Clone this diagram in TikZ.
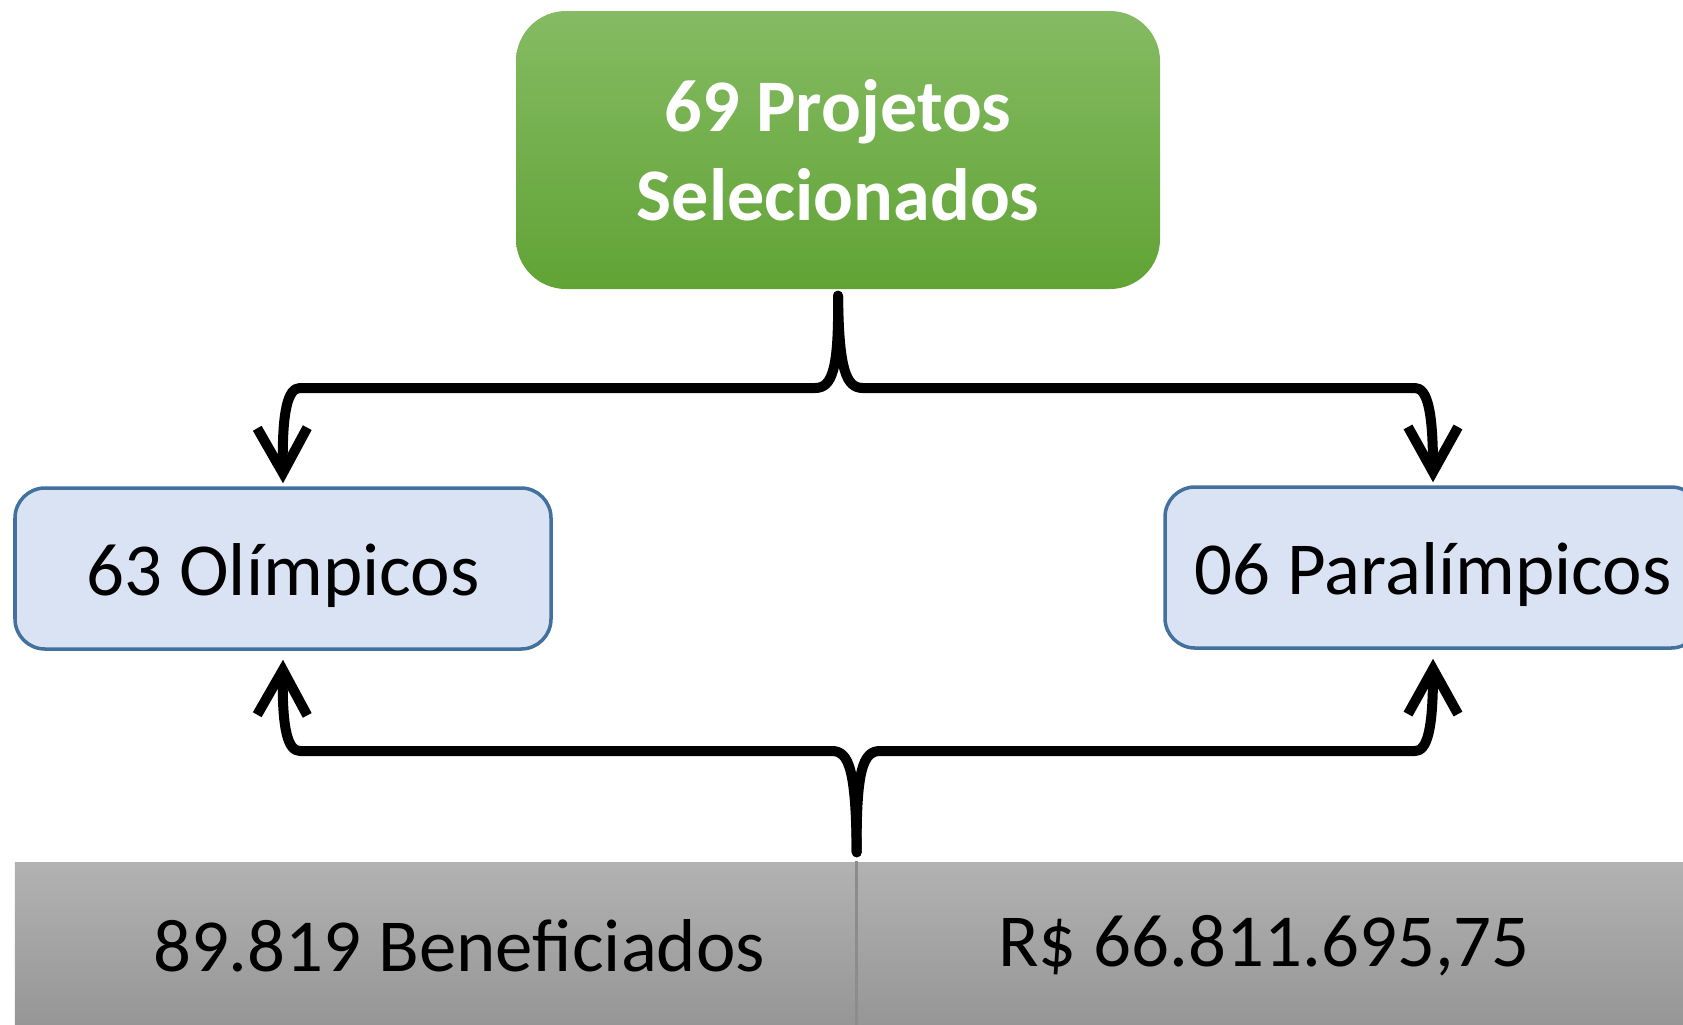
\documentclass[tikz,border=0pt]{standalone}
\usepackage{fontspec}
\setmainfont{Carlito}
\usetikzlibrary{arrows.meta}
\definecolor{verdeTop}{HTML}{85BB63}
\definecolor{verdeBot}{HTML}{61A335}
\definecolor{azulFill}{HTML}{DAE3F3}
\definecolor{azulBorda}{HTML}{41719C}
\definecolor{cinzaTop}{HTML}{B2B2B2}
\definecolor{cinzaBot}{HTML}{959595}
\begin{document}
\begin{tikzpicture}
    
    \tikzstyle{projbox}=[rounded corners=0.5cm, top color=verdeTop, bottom color=verdeBot,
        minimum width=6.44cm, minimum height=2.78cm, align=center, text=white,
        font=\fontsize{21.1}{25.3}\selectfont\bfseries]
    \tikzstyle{tipobox}=[rounded corners=0.3cm, draw=azulBorda, line width=1pt, fill=azulFill,
        minimum width=5.36cm, minimum height=1.61cm, text height=0.68cm, text depth=0.15cm,
        font=\fontsize{21.3}{25}\selectfont]
    \tikzstyle{barbox}=[top color=cinzaTop, bottom color=cinzaBot, inner sep=0pt,
        minimum height=1.68cm, font=\fontsize{21.3}{25}\selectfont]
    \tikzstyle{chave}=[line width=0.1cm, line cap=round, line join=round,
        -{Straight Barb[length=0.45cm, width=0.5cm]}]
    
    \useasboundingbox (0,0) rectangle (16.83,-10.24);
    
    \node[projbox] (Proj) at (8.38,-1.50) {69 Projetos\\Selecionados};
    \node[tipobox] (Olim) at (2.83,-5.685) {63 Olímpicos};
    \node[tipobox] (Para) at (14.33,-5.675) {06 Paralímpicos};
    \node[barbox, minimum width=8.41cm] (Benef) at (4.355,-9.46) {\hspace*{0.47cm}89.819 Beneficiados};
    \node[barbox, minimum width=8.44cm] (Valor) at (12.78,-9.46) {R\$ 66.811.695,75\hspace*{0.28cm}};
    \draw[black!45, line width=0.8pt] (Benef.north east) -- (Benef.south east);
    
    % chave de cima
    \draw[chave] ([yshift=-0.06cm]Proj.south) .. controls (8.39,-3.70) and (8.32,-3.88) .. (8.15,-3.88)
        -- (3.00,-3.88) .. controls (2.88,-3.88) and (2.82,-4.10) .. ([yshift=0.03cm]Olim.north);
    \draw[chave] ([yshift=-0.06cm]Proj.south) .. controls (8.39,-3.70) and (8.46,-3.88) .. (8.63,-3.88)
        -- (14.15,-3.88) .. controls (14.27,-3.88) and (14.33,-4.10) .. ([yshift=0.03cm]Para.north);
    
    % chave de baixo
    \draw[chave] ([yshift=0.09cm]Benef.north east) .. controls (8.56,-7.70) and (8.49,-7.51) .. (8.32,-7.51)
        -- (3.00,-7.51) .. controls (2.88,-7.51) and (2.82,-7.30) .. ([yshift=-0.09cm]Olim.south);
    \draw[chave] ([yshift=0.09cm]Benef.north east) .. controls (8.56,-7.70) and (8.63,-7.51) .. (8.80,-7.51)
        -- (14.15,-7.51) .. controls (14.27,-7.51) and (14.33,-7.30) .. ([yshift=-0.09cm]Para.south);
    
\end{tikzpicture}
\end{document}
